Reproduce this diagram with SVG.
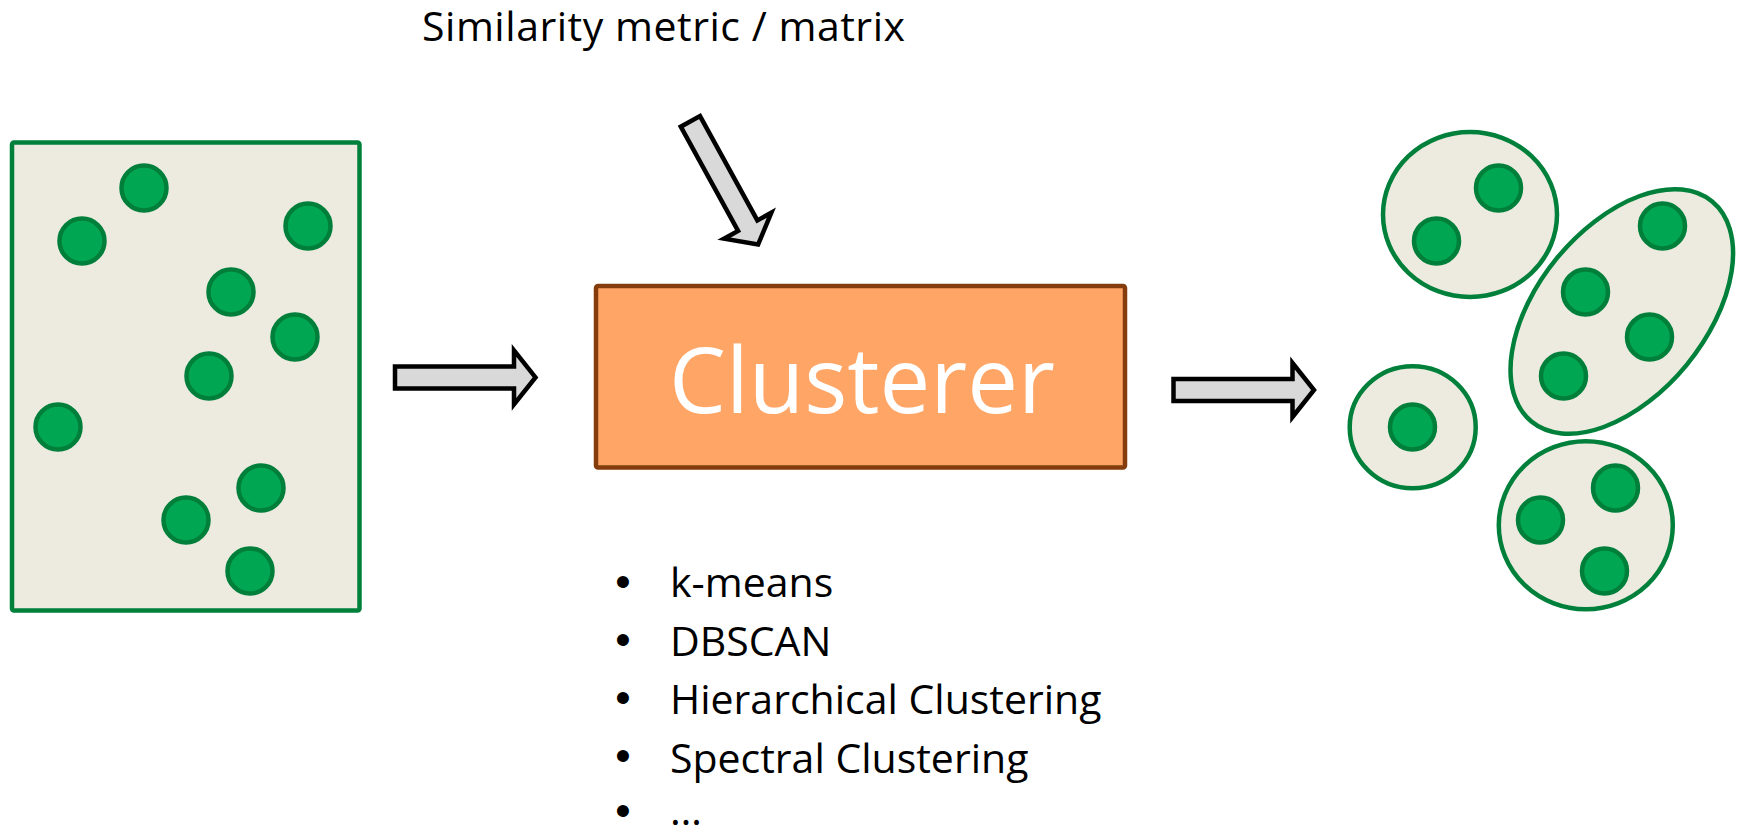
<svg xmlns="http://www.w3.org/2000/svg" xmlns:xlink="http://www.w3.org/1999/xlink" width="1741" height="830" viewBox="0 0 1741 830">
  <style>
    .panel { fill: #edebe0; stroke: #00803a; stroke-width: 4.5; }
    .dot { fill: #00a651; stroke: #007f3a; stroke-width: 4.5; }
    .arrow { fill: #d9d9d9; stroke: #000000; stroke-width: 4.5; stroke-linejoin: miter; stroke-miterlimit: 10; }
    .box { fill: #ffa566; stroke: #843c0c; stroke-width: 4.5; }
    .txt { font-family: "Open Sans", "Noto Sans", "Liberation Sans", sans-serif; font-size: 41px; fill: #000000; }
    .bul { font-family: "Liberation Sans", Arial, sans-serif; font-size: 44px; fill: #000000; text-anchor: middle; }
    .big { font-family: "Open Sans", "Noto Sans", "Liberation Sans", sans-serif; font-size: 92px; fill: #ffffff; text-anchor: middle; }
  </style>
  <defs>
    <path id="blockArrow" d="M0,-11 H119 V-27 L140.5,0 L119,27 V11 H0 Z"/>
  </defs>
  <rect width="1741" height="830" fill="#ffffff"/>

  <g id="title">
    <text class="txt" x="422" y="41" textLength="483" lengthAdjust="spacing">Similarity metric / matrix</text>
  </g>

  <g id="input-data">
    <rect class="panel" x="12" y="142.5" width="347.5" height="468" rx="2"/>
    <circle class="dot" cx="144" cy="188" r="22.5"/>
    <circle class="dot" cx="82" cy="241" r="22.5"/>
    <circle class="dot" cx="308" cy="226" r="22.5"/>
    <circle class="dot" cx="231" cy="292" r="22.5"/>
    <circle class="dot" cx="295" cy="337" r="22.5"/>
    <circle class="dot" cx="209" cy="376" r="22.5"/>
    <circle class="dot" cx="58" cy="427" r="22.5"/>
    <circle class="dot" cx="261" cy="488" r="22.5"/>
    <circle class="dot" cx="186" cy="520" r="22.5"/>
    <circle class="dot" cx="250" cy="571" r="22.5"/>
  </g>

  <g id="clusterer">
    <rect class="box" x="596" y="286" width="529" height="181.5" rx="2"/>
    <text class="big" x="862" y="413" textLength="386" lengthAdjust="spacingAndGlyphs">Clusterer</text>
  </g>

  <g id="algorithms">
    <text class="bul" x="623" y="597">•</text>
    <text class="txt" x="670" y="597">k-means</text>
    <text class="bul" x="623" y="655">•</text>
    <text class="txt" x="670" y="655.5">DBSCAN</text>
    <text class="bul" x="623" y="713">•</text>
    <text class="txt" x="670" y="714">Hierarchical Clustering</text>
    <text class="bul" x="623" y="771">•</text>
    <text class="txt" x="670" y="772.5">Spectral Clustering</text>
    <text class="bul" x="623" y="826">•</text>
    <text class="txt" x="670" y="825">…</text>
  </g>

  <g id="clusters">
    <g id="cluster-a">
      <ellipse class="panel" cx="1470" cy="214.5" rx="87" ry="82.5"/>
      <circle class="dot" cx="1498.5" cy="188" r="22.5"/>
      <circle class="dot" cx="1436.5" cy="241" r="22.5"/>
    </g>
    <g id="cluster-b">
      <ellipse class="panel" cx="1621.8" cy="311.5" rx="142.4" ry="84" transform="rotate(-50.6 1621.8 311.5)"/>
      <circle class="dot" cx="1662.5" cy="226" r="22.5"/>
      <circle class="dot" cx="1585.5" cy="292" r="22.5"/>
      <circle class="dot" cx="1649.5" cy="337" r="22.5"/>
      <circle class="dot" cx="1563.5" cy="376" r="22.5"/>
    </g>
    <g id="cluster-c">
      <ellipse class="panel" cx="1412.7" cy="427.2" rx="63" ry="61"/>
      <circle class="dot" cx="1412.5" cy="427" r="22.5"/>
    </g>
    <g id="cluster-d">
      <ellipse class="panel" cx="1585.8" cy="525.2" rx="87" ry="84"/>
      <circle class="dot" cx="1615.5" cy="488" r="22.5"/>
      <circle class="dot" cx="1540.5" cy="520" r="22.5"/>
      <circle class="dot" cx="1604.5" cy="571" r="22.5"/>
    </g>
  </g>

  <g id="connectors">
    <use class="arrow" xlink:href="#blockArrow" href="#blockArrow" transform="translate(690.4,121.4) rotate(61.2)"/>
    <use class="arrow" xlink:href="#blockArrow" href="#blockArrow" transform="translate(395,377.4)"/>
    <use class="arrow" xlink:href="#blockArrow" href="#blockArrow" transform="translate(1173.5,390)"/>
  </g>
</svg>
